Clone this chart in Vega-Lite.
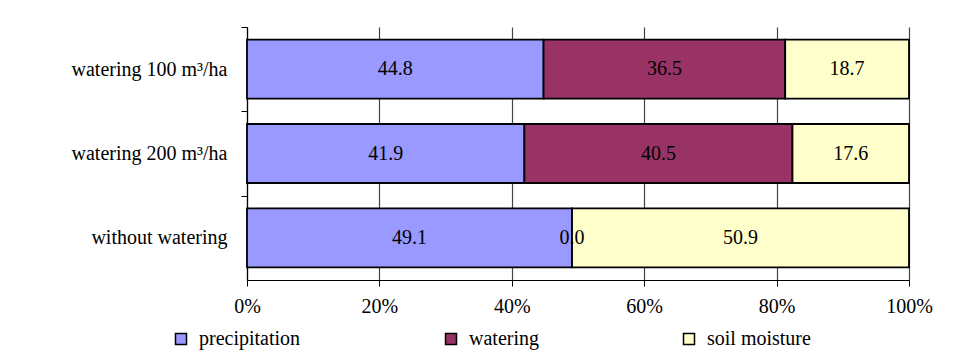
{
  "$schema": "https://vega.github.io/schema/vega-lite/v6.json",
  "autosize": "none",
  "width": 662,
  "height": 253,
  "padding": {"left": 247, "top": 27, "right": 61, "bottom": 76},
  "background": "white",
  "config": {
    "font": "Liberation Serif",
    "view": {"stroke": null},
    "axis": {"labelColor": "black", "labelFont": "Liberation Serif"}
  },
  "data": {
    "values": [
      {"treatment": "watering 100 m³/ha", "component": "precipitation", "value": 44.8},
      {"treatment": "watering 100 m³/ha", "component": "watering", "value": 36.5},
      {"treatment": "watering 100 m³/ha", "component": "soil moisture", "value": 18.7},
      {"treatment": "watering 200 m³/ha", "component": "precipitation", "value": 41.9},
      {"treatment": "watering 200 m³/ha", "component": "watering", "value": 40.5},
      {"treatment": "watering 200 m³/ha", "component": "soil moisture", "value": 17.6},
      {"treatment": "without watering", "component": "precipitation", "value": 49.1},
      {"treatment": "without watering", "component": "watering", "value": 0.0},
      {"treatment": "without watering", "component": "soil moisture", "value": 50.9}
    ]
  },
  "transform": [
    {"calculate": "indexof(['precipitation', 'watering', 'soil moisture'], datum.component)", "as": "rank"},
    {"stack": "value", "groupby": ["treatment"], "offset": "normalize", "sort": [{"field": "rank", "order": "ascending"}], "as": ["v0", "v1"]},
    {"calculate": "(datum.v0 + datum.v1) / 2", "as": "mid"}
  ],
  "encoding": {
    "y": {
      "field": "treatment",
      "type": "nominal",
      "sort": ["watering 100 m³/ha", "watering 200 m³/ha", "without watering"],
      "scale": {"paddingInner": 0.3, "paddingOuter": 0.15},
      "axis": {
        "title": null,
        "domainColor": "black",
        "domainWidth": 1.2,
        "tickColor": "black",
        "tickSize": 6,
        "bandPosition": 0,
        "tickOffset": -12.6,
        "labelOffset": 12.6,
        "labelFontSize": 20,
        "labelPadding": 14,
        "grid": false
      }
    }
  },
  "layer": [
    {
      "mark": {"type": "bar", "stroke": "black", "strokeWidth": 1.8},
      "encoding": {
        "x": {
          "field": "v0",
          "type": "quantitative",
          "scale": {"domain": [0, 1], "nice": false},
          "axis": {
            "title": null,
            "format": ".0%",
            "values": [0, 0.2, 0.4, 0.6, 0.8, 1],
            "grid": true,
            "gridColor": "#444444",
            "gridWidth": 1.2,
            "domainColor": "black",
            "domainWidth": 1.2,
            "tickColor": "black",
            "tickSize": 6,
            "labelFontSize": 20,
            "labelPadding": 10,
            "labelFlush": false
          }
        },
        "x2": {"field": "v1"},
        "color": {
          "field": "component",
          "type": "nominal",
          "scale": {
            "domain": ["precipitation", "watering", "soil moisture"],
            "range": ["#9999FF", "#993366", "#FFFFCC"]
          },
          "legend": {
            "title": null,
            "orient": "none",
            "direction": "horizontal",
            "legendX": -76,
            "legendY": 302,
            "symbolType": "square",
            "symbolSize": 121,
            "symbolStrokeColor": "black",
            "symbolStrokeWidth": 1.5,
            "symbolOpacity": 1,
            "labelFont": "Liberation Serif",
            "labelFontSize": 20,
            "labelOffset": 8,
            "labelColor": "black",
            "columnPadding": 140
          }
        }
      }
    },
    {
      "mark": {"type": "text", "font": "Liberation Serif", "fontSize": 20, "color": "black", "align": "center", "baseline": "middle"},
      "encoding": {
        "x": {"field": "mid", "type": "quantitative"},
        "text": {"field": "value", "type": "quantitative", "format": ".1f"}
      }
    }
  ]
}
